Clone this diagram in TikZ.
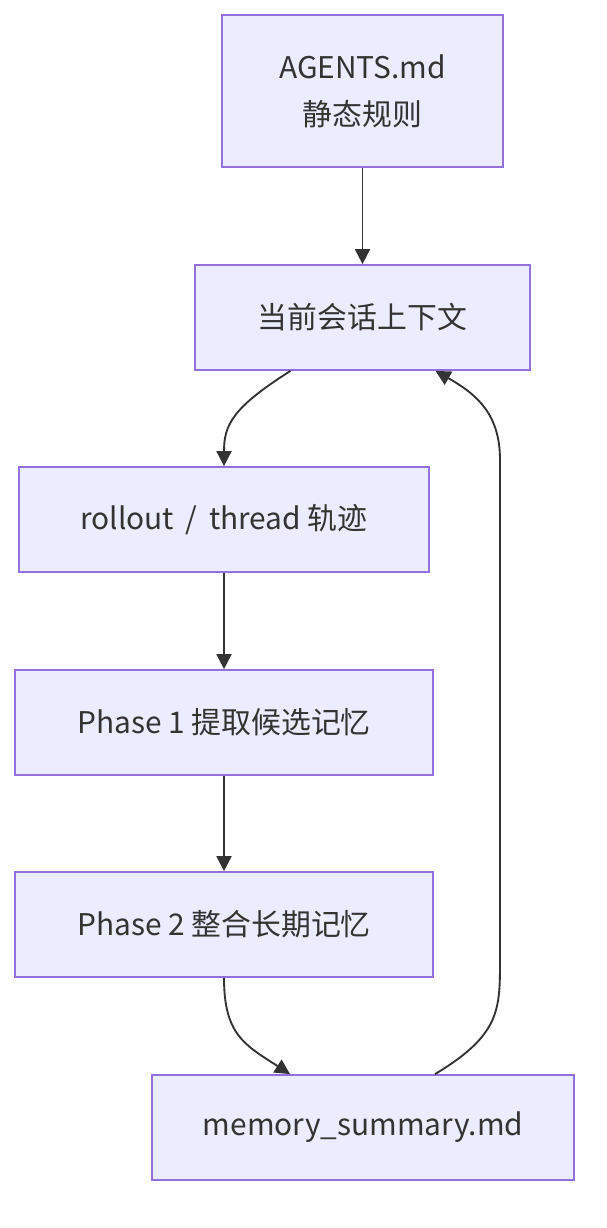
\documentclass[tikz,border=0pt]{standalone}
\usepackage{fontspec}
\setmainfont{Noto Sans CJK SC}
\usetikzlibrary{arrows.meta,calc,positioning}
\definecolor{Ink}{HTML}{333333}
\definecolor{Lavender}{HTML}{ECECFF}
\definecolor{Purple}{HTML}{9370DB}
\definecolor{TextInk}{HTML}{333333}
\tikzset{
  stage/.style={
    draw=Purple, line width=1.5pt, fill=Lavender, text=TextInk,
    minimum height=3.15cm, align=center, inner sep=0pt,
    font=\fontsize{25.5}{40}\selectfont
  },
  flow/.style={-{Triangle[length=0.45cm,width=0.45cm]}, line width=1.6pt, draw=Ink}
}
\begin{document}
\begin{tikzpicture}[x=0.03cm,y=-0.03cm]
    \useasboundingbox (0,0) rectangle (606,1228);
    \node[stage,minimum width=8.43cm,minimum height=4.56cm] (rules) at (362.5,91) {AGENTS.md\\静态规则};
    \node[stage,minimum width=10.05cm] (ctx) at (362.5,317.5) {当前会话上下文};
    \node[stage,minimum width=12.3cm] (trace) at (224,519.5) {rollout \,/\, thread 轨迹};
    \node[stage,minimum width=12.54cm] (extract) at (224,722.5) {Phase 1 提取候选记忆};
    \node[stage,minimum width=12.54cm] (merge) at (224,924.5) {Phase 2 整合长期记忆};
    \node[stage,minimum width=12.66cm] (summary) at (363,1127.5) {memory\_summary.md};
    \draw[flow] (rules)--(ctx);
    \draw[flow] ($(ctx.south)+(-72,0)$) .. controls (232,408) and (224,425) .. (trace.north);
    \draw[flow] (trace)--(extract);
    \draw[flow] (extract)--(merge);
    \draw[flow] (merge.south) .. controls (224,1035) and (245,1045) .. ($(summary.north)+(-73,0)$);
    \draw[flow] ($(summary.north)+(72,0)$) .. controls (500,1035) and (500,1010) .. (500,960)
      -- (500,460) .. controls (500,415) and (478,395) .. ($(ctx.south)+(73,0)$);
  \end{tikzpicture}
\end{document}
